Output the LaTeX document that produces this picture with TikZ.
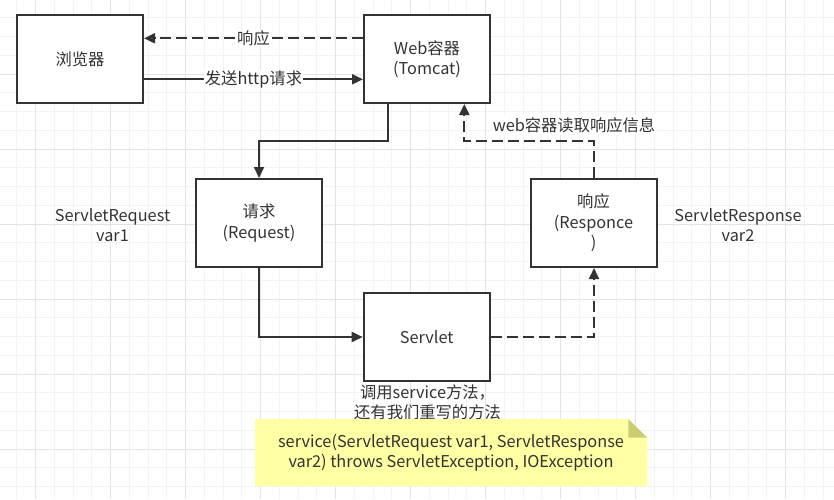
\documentclass[tikz,border=0pt]{standalone}
\usepackage{fontspec}
\setmainfont{Noto Sans CJK SC}
\usetikzlibrary{arrows.meta}
\definecolor{ink}{HTML}{333333}
\definecolor{gridminor}{HTML}{F3F3F3}
\definecolor{gridmajor}{HTML}{E3E3E3}
\definecolor{notefill}{HTML}{FFFFA3}
\definecolor{notefold}{HTML}{CCCC70}
\tikzset{
  box/.style={draw=ink, line width=2pt, fill=white, minimum width=126pt, minimum height=88pt, inner sep=0pt, align=center, text=ink},
  conn/.style={draw=ink, line width=2pt, -{Triangle[length=11pt,width=10pt]}},
  dconn/.style={conn, dash pattern=on 11pt off 5pt},
  lbl/.style={fill=white, inner sep=1pt, text=ink, align=center},
  plain/.style={inner sep=0pt, text=ink, align=center},
}
\begin{document}
\begin{tikzpicture}[x=1pt,y=-1pt, font=\fontsize{16.3}{20.5}\selectfont]
\useasboundingbox (0,0) rectangle (834,499);
\fill[white] (0,0) rectangle (834,499);
% grid
\foreach \i in {0,...,44} {
  \pgfmathsetmacro{\gx}{16.95+18.75*\i}
  \draw[gridminor, line width=1pt] (\gx,0) -- (\gx,499);
}
\foreach \i in {0,...,26} {
  \pgfmathsetmacro{\gy}{-1+18.75*\i}
  \draw[gridminor, line width=1pt] (0,\gy) -- (834,\gy);
}
\foreach \i in {0,...,10} {
  \pgfmathsetmacro{\gx}{35.7+75*\i}
  \draw[gridmajor, line width=1pt] (\gx,0) -- (\gx,499);
}
\foreach \i in {0,...,6} {
  \pgfmathsetmacro{\gy}{74+75*\i}
  \draw[gridmajor, line width=1pt] (0,\gy) -- (834,\gy);
}
% boxes
\node[box] (browser) at (80,59) {浏览器};
\node[box] (web) at (427,59) {Web容器\\(Tomcat)};
\node[box] (req) at (259,223) {请求\\(Request)};
\node[box] (resp) at (593.5,223) {响应\\(Responce\\)};
\node[box] (servlet) at (426.7,337) {Servlet};
% helper coordinates
\coordinate (c1) at (387.7,141);
\coordinate (c2) at (259,141);
\coordinate (d1) at (594,141);
\coordinate (d2) at (464.3,141);
\coordinate (e1) at (259,337);
\coordinate (f1) at (594,337);
% connectors
\draw[dconn] (web.west |- 0,38.3) -- node[lbl, pos=0.5] (lresp) {响应} (browser.east |- 0,38.3);
\draw[conn] (browser.east |- 0,79.3) -- node[lbl, pos=0.5] (lsend) {发送http请求} (web.west |- 0,79.3);
\draw[conn] (web.south -| c1) -- (c1) -- (c2) -- (req.north);
\draw[dconn] (resp.north -| d1) -- (d1) -- (d2) -- (web.south -| d2);
\draw[conn] (req.south) -- (e1) -- (servlet.west);
\draw[dconn] (servlet.east) -- (f1) -- (resp.south -| f1);
% labels
\node[lbl, inner sep=2pt] (lread) at (574,125) {web容器读取响应信息};
\node[plain] (lreq) at (112.5,225) {ServletRequest\\var1};
\node[plain] (lresp2) at (738,225) {ServletResponse\\var2};
\node[plain] (lcall) at (427.5,402.5) {调用service方法，\\还有我们重写的方法};
% note
\fill[notefill] (255,419) -- (628.3,419) -- (647.3,437.7) -- (647.3,486) -- (255,486) -- cycle;
\fill[notefold] (628.3,419) -- (647.3,437.7) -- (628.3,437.7) -- cycle;
\node[plain] (note) at (451,452.5) {service(ServletRequest var1, ServletResponse\\var2) throws ServletException, IOException};
\end{tikzpicture}
\end{document}
